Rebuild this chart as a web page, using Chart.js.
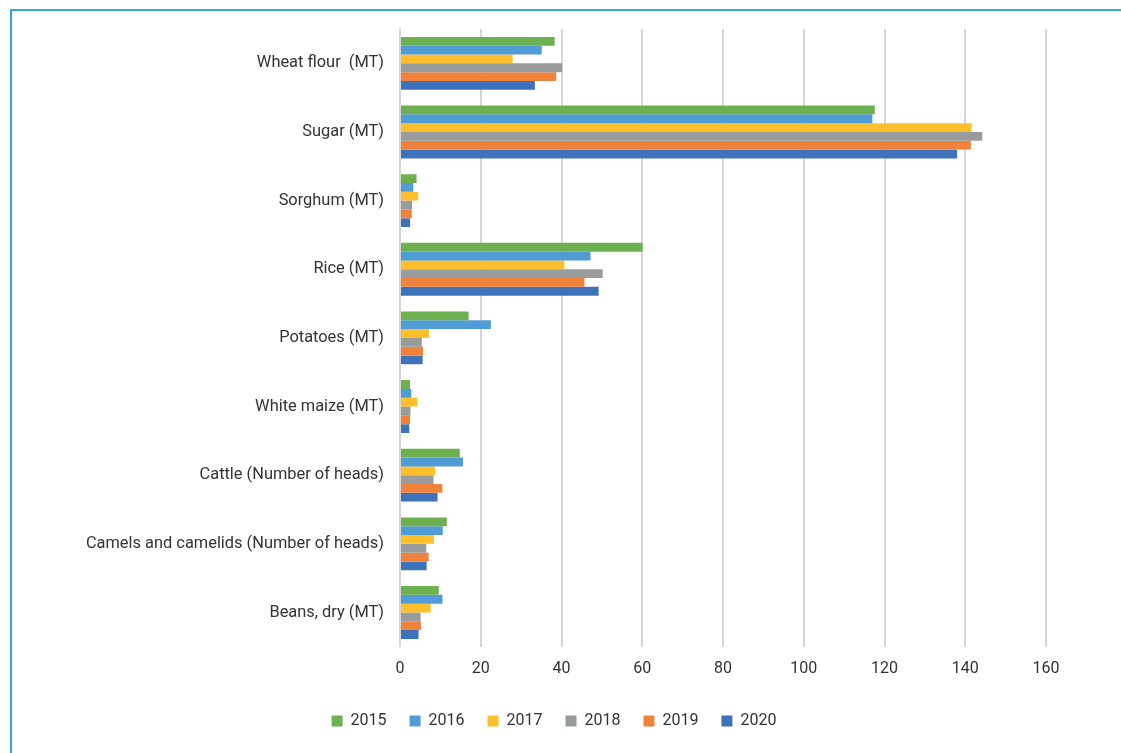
<!DOCTYPE html>
<html>
<head>
<meta charset="utf-8">
<script src="https://cdn.jsdelivr.net/npm/chart.js@4.4.0/dist/chart.umd.min.js"></script>
<style>
  html, body { margin: 0; padding: 0; background: #fff; overflow: hidden; }
  #frame { position: absolute; left: 10px; top: 9px; width: 1200px; height: 800px;
           border-left: 2px solid #2ea6e2; border-top: 2px solid #2ea6e2; }
  #wrap { position: absolute; left: 0; top: 0; width: 1121px; height: 753px; }
</style>
</head>
<body>
<div id="frame"></div>
<div id="wrap"><canvas id="chart1"></canvas></div>
<script>
// categories (top to bottom)
var categories = ["Wheat flour  (MT)", "Sugar (MT)", "Sorghum (MT)", "Rice (MT)", "Potatoes (MT)",
                  "White maize (MT)", "Cattle (Number of heads)", "Camels and camelids (Number of heads)", "Beans, dry (MT)"];

// series values, one per year
var y2015 = [38.3, 117.6, 4.1, 60.1, 17.0, 2.5, 14.8, 11.6, 9.6];
var y2016 = [35.1, 117.0, 3.3, 47.2, 22.5, 2.8, 15.6, 10.6, 10.5];
var y2017 = [27.9, 141.6, 4.5, 40.7, 7.2, 4.3, 8.7, 8.4, 7.6];
var y2018 = [40.2, 144.2, 3.0, 50.2, 5.4, 2.6, 8.3, 6.5, 5.1];
var y2019 = [38.7, 141.4, 2.9, 45.7, 5.7, 2.5, 10.5, 7.1, 5.2];
var y2020 = [33.4, 138.0, 2.5, 49.2, 5.6, 2.3, 9.3, 6.6, 4.6];

var years = ["2015", "2016", "2017", "2018", "2019", "2020"];
var xTicks = [0, 20, 40, 60, 80, 100, 120, 140, 160];

var colors = ["#6cb04f", "#509cd6", "#fdbf2b", "#999c9c", "#f1823c", "#3e73bb"];
var series = [y2015, y2016, y2017, y2018, y2019, y2020];

var FONT = "Roboto, sans-serif";

var datasets = series.map(function (vals, i) {
  return {
    label: years[i],
    data: vals,
    backgroundColor: colors[i],
    borderWidth: 0,
    categoryPercentage: 0.77,
    barPercentage: 1.0
  };
});

new Chart(document.getElementById("chart1"), {
  type: "bar",
  data: { labels: categories, datasets: datasets },
  options: {
    indexAxis: "y",
    responsive: true,
    maintainAspectRatio: false,
    animation: false,
    layout: { padding: { top: 29, right: 75, bottom: 14, left: 62 } },
    scales: {
      x: {
        min: 0, max: 160,
        afterBuildTicks: function (axis) { axis.ticks = xTicks.map(function (v) { return { value: v }; }); },
        afterFit: function (axis) { axis.height -= 2; },
        grid: { color: "#d6d6d6", lineWidth: 2, drawTicks: false },
        border: { display: false },
        ticks: { color: "#333", padding: 13, font: { family: FONT, size: 16 } }
      },
      y: {
        afterFit: function (axis) { axis.width = 338; },
        grid: { display: false, drawTicks: false },
        border: { display: false },
        ticks: { color: "#333", padding: 16, font: { family: FONT, size: 16.4 } }
      }
    },
    plugins: {
      legend: {
        position: "bottom",
        labels: { boxWidth: 11, boxHeight: 11, padding: 23, color: "#333", font: { family: FONT, size: 16 } }
      },
      tooltip: { enabled: false }
    }
  }
});
</script>
</body>
</html>
